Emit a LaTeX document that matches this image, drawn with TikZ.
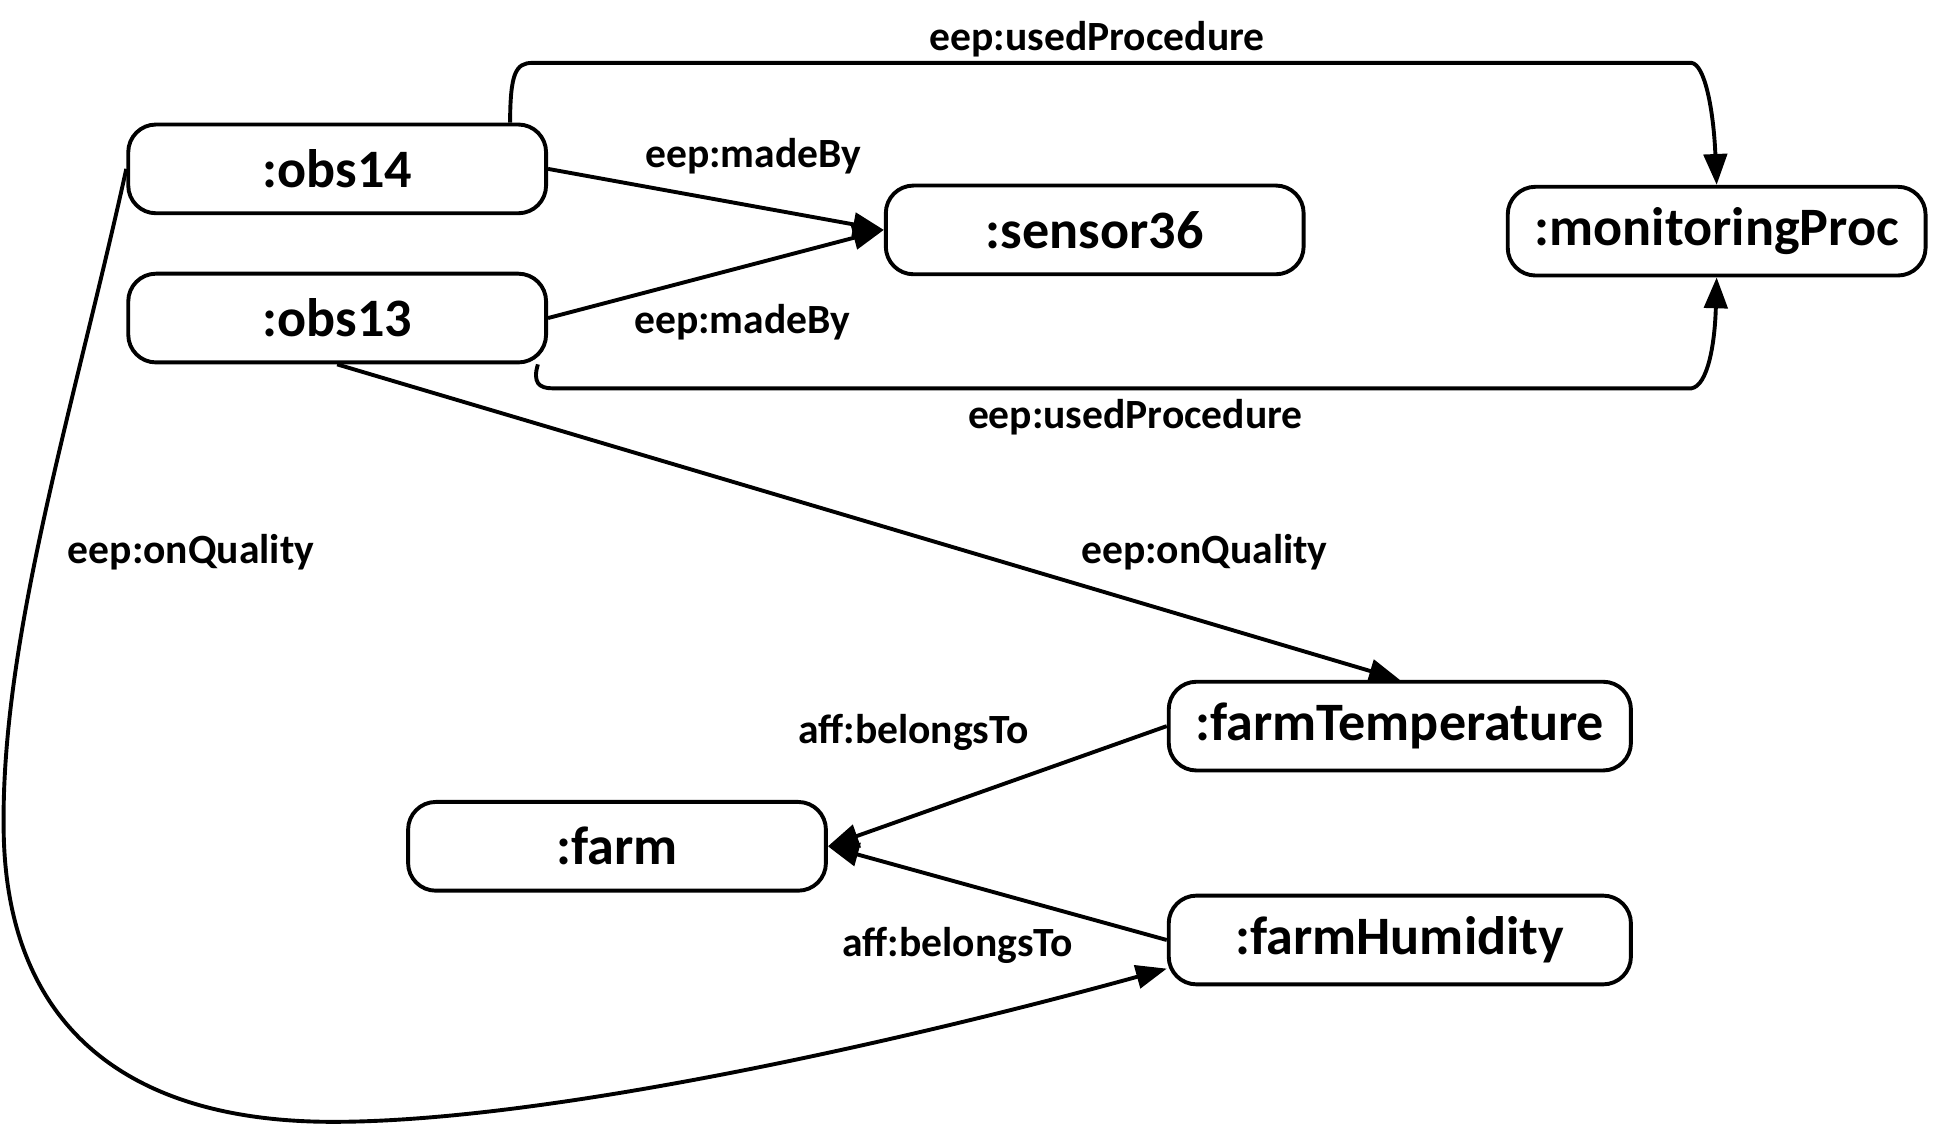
\documentclass[tikz,border=0pt]{standalone}
\usepackage{fontspec}
\setmainfont{Carlito}
\usetikzlibrary{arrows.meta}

\begin{document}
\begin{tikzpicture}[x=0.02cm, y=-0.02cm, line width=1.8pt,
  box/.style={draw, rounded corners=0.45cm, minimum width=6.78cm, minimum height=1.44cm, inner sep=0pt, font=\fontsize{25}{28}\selectfont\bfseries},
  lbl/.style={inner sep=0pt, font=\fontsize{19.2}{22}\selectfont\bfseries},
  >={Triangle[length=0.5cm,width=0.38cm]}]
\useasboundingbox (0,0) rectangle (1568,912.6);
% the nodes
\node[box] (o14) at (273.5,137) {:obs14};
\node[box] (o13) at (273.5,258) {:obs13};
\node[box] (sen) at (888,186.5) {:sensor36};
\node[box] (proc) at (1392.5,187.5) {:monitoringProc};
\node[box, minimum width=7.5cm] (temp) at (1135.5,589) {:farmTemperature};
\node[box] (farm) at (500.5,686.5) {:farm};
\node[box, minimum width=7.5cm] (hum) at (1135.5,762.5) {:farmHumidity};
% the links
\draw[->] (o14.east) -- (sen.west);
\draw[->] (o13.east) -- (sen.west);
\draw[->] (o14.15.8) .. controls (414,60) and (418,51) .. (432,51) -- (1372,51) .. controls (1383,52) and (1390,90) .. (proc.north);
\draw[->] (o13.-13.5) .. controls (432,310) and (437,315) .. (448,315) -- (1372,315) .. controls (1385,313) and (1391,280) .. (proc.south);
\draw[->] (o13.south) -- (temp.north);
\draw[->] (o14.west) .. controls (60,330) and (0,520) .. (3,676) .. controls (6,830) and (100,910) .. (270,910) .. controls (450,910) and (750,840) .. (hum.187.5);
\draw[->] (temp.west) -- (farm.east);
\draw[->] (hum.west) -- (farm.east);
% the labels
\node[lbl] (l1) at (890,32) {eep:usedProcedure};
\node[lbl] (l2) at (611,127) {eep:madeBy};
\node[lbl] (l3) at (602,261) {eep:madeBy};
\node[lbl] (l4) at (921,338) {eep:usedProcedure};
\node[lbl] (l5) at (155,448) {eep:onQuality};
\node[lbl] (l6) at (977,448) {eep:onQuality};
\node[lbl] (l7) at (741,594) {aff:belongsTo};
\node[lbl] (l8) at (777,767) {aff:belongsTo};
\end{tikzpicture}
\end{document}
